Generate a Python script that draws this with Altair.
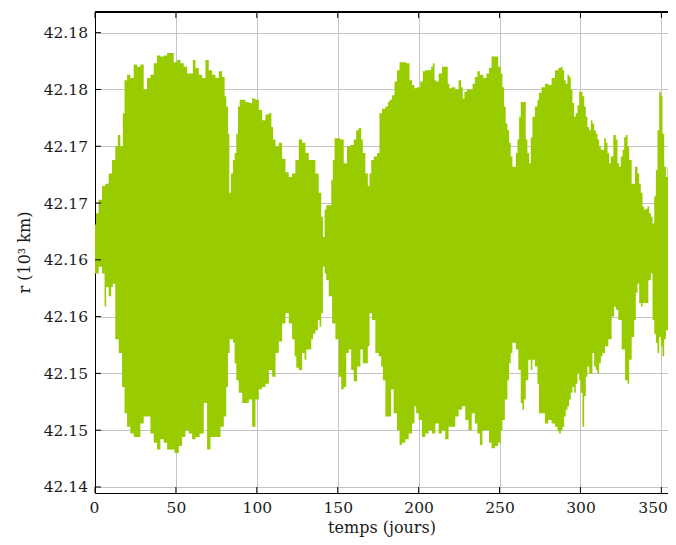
import altair as alt
import pandas as pd

# Upper envelope of r (10^3 km)
days_up = [0.0, 1.2, 3.3, 5.4, 7.4, 9.5, 11.5, 13.6, 14.6, 16.7, 17.7, 18.8, 20.8, 22.9, 24.9, 27.0, 29.1,
           31.1, 33.2, 35.3, 37.3, 39.4, 41.4, 43.5, 45.6, 47.6, 49.7, 51.8, 53.8, 55.9, 57.9, 60.0, 61.0,
           63.1, 65.2, 67.2, 69.3, 71.3, 73.4, 75.5, 77.5, 79.6, 80.6, 81.6, 82.7, 83.3, 84.7, 85.8, 86.8,
           87.8, 88.9, 89.9, 92.0, 94.0, 96.1, 98.1, 100.2, 102.3, 104.3, 106.4, 108.5, 109.5, 110.5, 112.6,
           114.6, 116.7, 118.7, 120.8, 122.8, 124.9, 127.0, 129.0, 131.1, 133.1, 135.2, 137.2, 139.3, 140.3,
           141.4, 142.4, 143.4, 145.5, 146.5, 147.5, 148.6, 150.6, 152.7, 154.7, 156.8, 158.8, 160.9, 161.9,
           164.0, 165.0, 166.0, 168.1, 169.1, 170.2, 171.2, 173.3, 175.3, 176.3, 178.4, 180.5, 181.5, 182.5,
           184.6, 185.6, 187.7, 188.7, 190.7, 193.8, 194.9, 196.9, 197.9, 200.0, 202.1, 203.1, 205.1, 207.2,
           208.2, 209.3, 210.3, 211.3, 213.4, 215.4, 217.5, 218.5, 219.5, 221.6, 223.7, 225.7, 226.7, 227.8,
           228.8, 230.9, 232.9, 233.7, 235.8, 236.8, 238.9, 240.9, 243.0, 244.0, 246.1, 248.1, 250.2, 251.2,
           252.3, 253.3, 254.3, 255.4, 256.4, 257.4, 258.5, 259.5, 260.6, 261.6, 262.6, 263.6, 265.7, 266.7,
           267.7, 268.8, 269.8, 270.8, 272.9, 273.9, 274.9, 277.0, 279.1, 281.1, 283.2, 285.3, 287.3, 288.4,
           289.4, 290.4, 291.4, 292.5, 293.5, 294.5, 295.6, 296.6, 297.6, 298.7, 299.7, 300.7, 301.8, 302.8,
           303.8, 304.8, 305.9, 306.9, 307.9, 309.0, 310.0, 311.0, 312.1, 313.1, 314.1, 315.2, 316.2, 317.2,
           318.2, 319.3, 321.3, 322.4, 323.4, 324.4, 325.5, 326.5, 327.5, 328.6, 329.6, 330.6, 332.7, 334.7,
           335.8, 336.8, 337.8, 338.9, 339.9, 340.9, 342.0, 343.0, 344.0, 345.1, 346.1, 347.1, 348.1, 349.2,
           350.2, 351.2, 352.3, 353.3, 354.3, 355.4, 356.4, 357.4, 358.5, 359.1, 360.0]
r_up = [42.1631, 42.1641, 42.1653, 42.1665, 42.1667, 42.1676, 42.1688, 42.1700, 42.1710, 42.1700, 42.1729,
        42.1758, 42.1763, 42.1760, 42.1772, 42.1770, 42.1772, 42.1750, 42.1760, 42.1763, 42.1773, 42.1780,
        42.1779, 42.1780, 42.1782, 42.1782, 42.1774, 42.1776, 42.1773, 42.1770, 42.1764, 42.1764, 42.1776,
        42.1769, 42.1763, 42.1760, 42.1776, 42.1767, 42.1763, 42.1760, 42.1766, 42.1761, 42.1744, 42.1735,
        42.1711, 42.1659, 42.1676, 42.1688, 42.1694, 42.1711, 42.1735, 42.1741, 42.1741, 42.1739, 42.1738,
        42.1742, 42.1741, 42.1732, 42.1723, 42.1728, 42.1729, 42.1717, 42.1706, 42.1700, 42.1703, 42.1689,
        42.1677, 42.1673, 42.1676, 42.1688, 42.1706, 42.1703, 42.1694, 42.1688, 42.1688, 42.1676, 42.1659,
        42.1638, 42.1620, 42.1644, 42.1648, 42.1648, 42.1670, 42.1688, 42.1707, 42.1707, 42.1706, 42.1685,
        42.1700, 42.1701, 42.1706, 42.1714, 42.1716, 42.1706, 42.1694, 42.1676, 42.1665, 42.1676, 42.1688,
        42.1691, 42.1694, 42.1729, 42.1733, 42.1735, 42.1739, 42.1741, 42.1745, 42.1757, 42.1767, 42.1774,
        42.1774, 42.1773, 42.1758, 42.1754, 42.1751, 42.1752, 42.1757, 42.1766, 42.1767, 42.1767, 42.1770,
        42.1773, 42.1758, 42.1757, 42.1764, 42.1770, 42.1770, 42.1755, 42.1751, 42.1752, 42.1750, 42.1758,
        42.1752, 42.1742, 42.1748, 42.1750, 42.1750, 42.1755, 42.1761, 42.1766, 42.1763, 42.1760, 42.1764,
        42.1769, 42.1779, 42.1779, 42.1770, 42.1764, 42.1752, 42.1735, 42.1720, 42.1714, 42.1703, 42.1691,
        42.1682, 42.1682, 42.1694, 42.1706, 42.1726, 42.1739, 42.1739, 42.1706, 42.1694, 42.1685, 42.1708,
        42.1726, 42.1735, 42.1741, 42.1747, 42.1752, 42.1755, 42.1754, 42.1760, 42.1767, 42.1769, 42.1770,
        42.1767, 42.1758, 42.1755, 42.1763, 42.1761, 42.1750, 42.1738, 42.1726, 42.1729, 42.1736, 42.1748,
        42.1748, 42.1744, 42.1735, 42.1726, 42.1717, 42.1714, 42.1723, 42.1720, 42.1714, 42.1711, 42.1706,
        42.1700, 42.1697, 42.1697, 42.1707, 42.1703, 42.1694, 42.1685, 42.1691, 42.1710, 42.1706, 42.1685,
        42.1682, 42.1691, 42.1697, 42.1708, 42.1710, 42.1700, 42.1688, 42.1667, 42.1682, 42.1676, 42.1667,
        42.1659, 42.1647, 42.1644, 42.1645, 42.1647, 42.1641, 42.1638, 42.1632, 42.1656, 42.1679, 42.1714,
        42.1748, 42.1744, 42.1711, 42.1682, 42.1673, 42.1682, 42.1685, 42.1703, 42.1706, 42.1700, 42.1694,
        42.1694]

# Lower envelope of r (10^3 km)
days_lo = [0.0, 1.2, 3.3, 5.4, 6.4, 7.4, 9.5, 10.5, 11.5, 13.6, 15.7, 17.7, 18.8, 20.8, 22.9, 24.9, 27.0,
           29.1, 31.1, 33.2, 35.3, 37.3, 39.4, 41.4, 43.5, 45.6, 47.6, 50.7, 52.8, 54.8, 56.9, 59.0, 61.0,
           63.1, 66.2, 68.2, 70.3, 72.4, 74.4, 76.5, 78.6, 80.6, 81.6, 82.7, 83.7, 84.7, 85.8, 86.8, 87.8,
           89.9, 92.0, 94.0, 96.1, 98.1, 100.2, 102.3, 104.3, 106.4, 108.5, 110.5, 112.6, 114.6, 116.7,
           118.7, 120.8, 122.8, 123.9, 124.9, 127.0, 129.0, 130.0, 131.1, 133.1, 134.2, 135.2, 137.2, 138.3,
           139.3, 140.3, 141.4, 142.4, 143.4, 145.5, 147.5, 149.6, 151.6, 152.7, 154.7, 155.8, 157.8, 158.8,
           160.9, 163.0, 165.0, 166.0, 168.1, 169.1, 170.2, 172.2, 174.3, 176.3, 177.4, 178.4, 180.5, 182.5,
           183.5, 185.6, 187.7, 188.7, 190.7, 192.8, 194.9, 196.9, 197.9, 199.0, 201.0, 203.1, 205.1, 207.2,
           209.3, 211.3, 213.4, 215.4, 217.5, 219.5, 221.6, 223.7, 225.7, 227.8, 229.8, 231.9, 233.7, 235.8,
           236.8, 238.9, 239.9, 240.9, 243.0, 244.0, 246.1, 248.1, 250.2, 251.2, 252.3, 254.3, 255.4, 256.4,
           257.4, 258.5, 259.5, 260.6, 262.6, 263.6, 264.6, 265.7, 266.7, 268.8, 269.8, 270.8, 272.9, 273.9,
           274.9, 277.0, 279.1, 281.1, 283.2, 285.3, 286.3, 287.3, 288.4, 289.4, 290.4, 291.4, 292.5, 293.5,
           294.5, 295.6, 296.6, 297.6, 298.7, 299.7, 300.7, 301.8, 302.8, 303.8, 304.8, 305.9, 306.9, 307.9,
           309.0, 310.0, 311.0, 312.1, 313.1, 314.1, 316.2, 318.2, 320.3, 321.3, 322.4, 324.4, 326.5, 328.6,
           329.6, 330.6, 332.7, 333.7, 334.7, 335.8, 336.8, 337.8, 338.9, 340.9, 343.0, 344.0, 345.1, 346.1,
           347.1, 348.1, 349.2, 350.2, 351.2, 352.3, 353.3, 355.4, 356.4, 357.4, 358.5, 359.1, 360.0]
r_lo = [42.1588, 42.1588, 42.1594, 42.1588, 42.1559, 42.1576, 42.1568, 42.1576, 42.1579, 42.1530, 42.1518,
        42.1488, 42.1465, 42.1453, 42.1447, 42.1444, 42.1444, 42.1456, 42.1462, 42.1462, 42.1447, 42.1439,
        42.1433, 42.1442, 42.1439, 42.1433, 42.1433, 42.1430, 42.1436, 42.1444, 42.1450, 42.1447, 42.1442,
        42.1444, 42.1447, 42.1474, 42.1433, 42.1444, 42.1444, 42.1444, 42.1453, 42.1462, 42.1488, 42.1518,
        42.1530, 42.1530, 42.1527, 42.1509, 42.1494, 42.1483, 42.1474, 42.1474, 42.1477, 42.1453, 42.1477,
        42.1486, 42.1488, 42.1491, 42.1503, 42.1497, 42.1518, 42.1528, 42.1544, 42.1553, 42.1544, 42.1530,
        42.1515, 42.1505, 42.1503, 42.1518, 42.1512, 42.1521, 42.1521, 42.1530, 42.1535, 42.1538, 42.1547,
        42.1541, 42.1553, 42.1594, 42.1588, 42.1582, 42.1568, 42.1544, 42.1530, 42.1497, 42.1486, 42.1488,
        42.1518, 42.1521, 42.1503, 42.1493, 42.1506, 42.1521, 42.1509, 42.1509, 42.1524, 42.1553, 42.1547,
        42.1518, 42.1515, 42.1506, 42.1494, 42.1462, 42.1462, 42.1486, 42.1465, 42.1450, 42.1437, 42.1439,
        42.1442, 42.1447, 42.1456, 42.1471, 42.1465, 42.1459, 42.1444, 42.1447, 42.1450, 42.1447, 42.1456,
        42.1447, 42.1450, 42.1442, 42.1453, 42.1453, 42.1462, 42.1468, 42.1471, 42.1459, 42.1450, 42.1465,
        42.1456, 42.1447, 42.1437, 42.1450, 42.1450, 42.1450, 42.1439, 42.1434, 42.1436, 42.1439, 42.1450,
        42.1459, 42.1477, 42.1494, 42.1509, 42.1518, 42.1527, 42.1527, 42.1521, 42.1503, 42.1474, 42.1468,
        42.1477, 42.1494, 42.1512, 42.1503, 42.1512, 42.1506, 42.1491, 42.1465, 42.1465, 42.1456, 42.1459,
        42.1456, 42.1453, 42.1449, 42.1447, 42.1450, 42.1453, 42.1462, 42.1468, 42.1471, 42.1477, 42.1483,
        42.1488, 42.1483, 42.1491, 42.1500, 42.1494, 42.1483, 42.1453, 42.1480, 42.1497, 42.1506, 42.1500,
        42.1500, 42.1518, 42.1506, 42.1503, 42.1500, 42.1509, 42.1515, 42.1518, 42.1524, 42.1530, 42.1550,
        42.1559, 42.1556, 42.1547, 42.1521, 42.1494, 42.1491, 42.1512, 42.1532, 42.1547, 42.1571, 42.1579,
        42.1562, 42.1559, 42.1562, 42.1562, 42.1582, 42.1588, 42.1547, 42.1535, 42.1527, 42.1518, 42.1532,
        42.1524, 42.1515, 42.1530, 42.1538, 42.1535, 42.1524, 42.1512, 42.1509, 42.1518, 42.1518]

x_ticks = [0, 50, 100, 150, 200, 250, 300, 350]
y_ticks = [42.14, 42.145, 42.15, 42.155, 42.16, 42.165, 42.17, 42.175, 42.18]
y_tick_labels = ["42.14", "42.15", "42.15", "42.16", "42.16", "42.17", "42.17", "42.18", "42.18"]

# plot area: 1.618 px per day; visible part of the reference ends at about day 354
W, H = 573, 481
X_MAX = 354.1
GREEN = "#99cc00"
FONT = "DejaVu Serif"

up = pd.DataFrame({"t": days_up, "r": r_up, "base": [42.1598] * len(days_up)})
lo = pd.DataFrame({"t": days_lo, "r": r_lo, "base": [42.1618] * len(days_lo)})
xt = pd.DataFrame({"t": x_ticks})
yt = pd.DataFrame({"v": y_ticks})

label_expr = "[" + ",".join("'%s'" % s for s in y_tick_labels) + "][round((datum.value - 42.14) / 0.005)]"

xscale = alt.Scale(domain=[0, X_MAX], nice=False, zero=False)
yscale = alt.Scale(domain=[42.13947, 42.18182], nice=False, zero=False)

xaxis = alt.Axis(values=x_ticks, title="temps (jours)", grid=True, ticks=False,
                 labelPadding=7, labelFlush=10, labelFlushOffset=6,
                 titleY=39.5, titleBaseline="alphabetic")
yaxis = alt.Axis(values=y_ticks, title="r (10³ km)", grid=True, ticks=False,
                 labelPadding=7.5, labelExpr=label_expr,
                 titleX=-63, titleY=240, titleAngle=-90, titleBaseline="bottom", titleAlign="center")

upper = alt.Chart(up).mark_area(color=GREEN, interpolate="step", opacity=1, clip=True).encode(
    x=alt.X("t:Q", scale=xscale, axis=xaxis),
    y=alt.Y("r:Q", scale=yscale, axis=yaxis),
    y2="base:Q",
)
lower = alt.Chart(lo).mark_area(color=GREEN, interpolate="step", opacity=1, clip=True).encode(
    x=alt.X("t:Q", scale=xscale),
    y=alt.Y("r:Q", scale=yscale),
    y2="base:Q",
)

tick_left = alt.Chart(yt).mark_rule(color="black", strokeWidth=1).encode(
    y=alt.Y("v:Q", scale=yscale), x=alt.value(0), x2=alt.value(6))
tick_bottom = alt.Chart(xt).mark_rule(color="black", strokeWidth=1).encode(
    x=alt.X("t:Q", scale=xscale), y=alt.value(H), y2=alt.value(H - 6))
tick_top = alt.Chart(xt).mark_rule(color="black", strokeWidth=1).encode(
    x=alt.X("t:Q", scale=xscale), y=alt.value(0), y2=alt.value(6))
top_line = alt.Chart(xt).mark_rule(color="black", strokeWidth=1).encode(
    x=alt.value(0), x2=alt.value(W), y=alt.value(0))

chart = alt.layer(upper, lower, tick_left, tick_bottom, tick_top, top_line).properties(
    width=W, height=H,
    background="white",
    autosize=alt.AutoSizeParams(type="none"),
    padding={"left": 87, "top": 4, "right": 0, "bottom": 44},
).configure_view(stroke=None).configure_axis(
    labelFont=FONT, titleFont=FONT, labelFontSize=15.5, titleFontSize=16,
    titleFontWeight="normal", labelColor="#1a1a1a", titleColor="#1a1a1a",
    domainColor="black", domainWidth=1, gridColor="#c4c4c4", gridWidth=1, zindex=1,
)

chart.save("out.html", embed_options={"renderer": "svg", "actions": False})
